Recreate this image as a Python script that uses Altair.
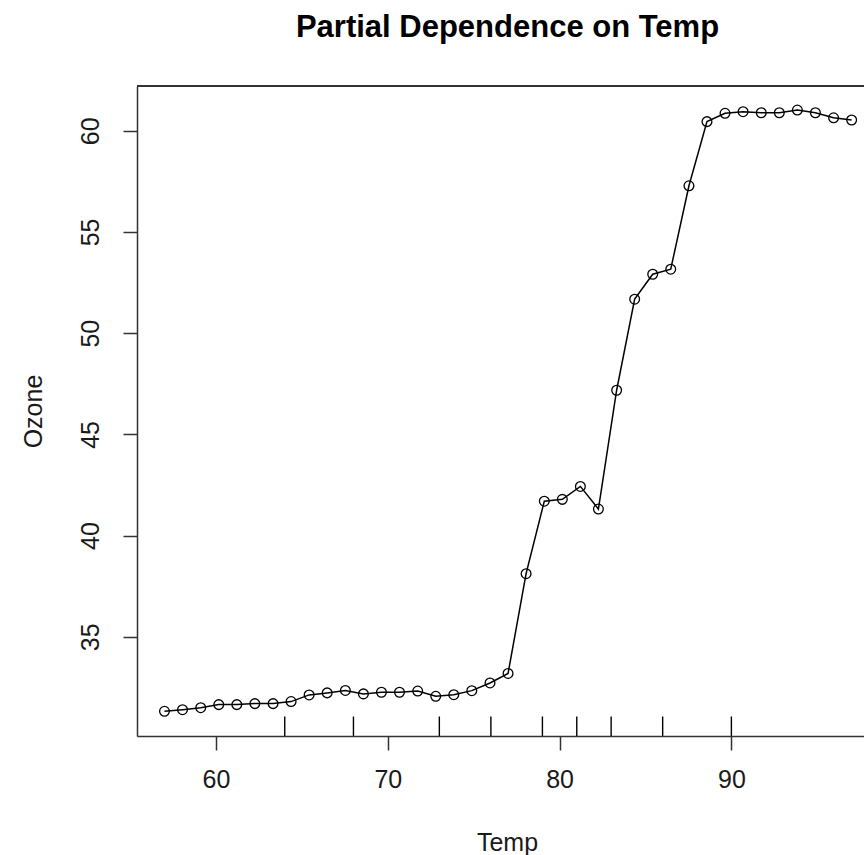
import altair as alt
import pandas as pd

# Partial dependence grid (Temp) and fitted Ozone values
temp = [57.00, 58.05, 59.11, 60.16, 61.21, 62.26, 63.32, 64.37, 65.42, 66.47,
        67.53, 68.58, 69.63, 70.68, 71.74, 72.79, 73.84, 74.89, 75.95, 77.00,
        78.05, 79.11, 80.16, 81.21, 82.26, 83.32, 84.37, 85.42, 86.47, 87.53,
        88.58, 89.63, 90.68, 91.74, 92.79, 93.84, 94.89, 95.95, 97.00]
ozone = [31.32, 31.40, 31.50, 31.65, 31.65, 31.70, 31.70, 31.80, 32.13, 32.23,
         32.35, 32.18, 32.26, 32.26, 32.32, 32.06, 32.14, 32.34, 32.72, 33.19,
         38.12, 41.70, 41.79, 42.43, 41.31, 47.18, 51.68, 52.91, 53.16, 57.28,
         60.45, 60.86, 60.94, 60.89, 60.89, 61.02, 60.89, 60.64, 60.53]
# Rug marks: deciles of Temp
rug_temp = [64, 68, 73, 76, 79, 81, 83, 86, 90]

x_ticks = [60, 70, 80, 90]
y_ticks = [35, 40, 45, 50, 55, 60]

df = pd.DataFrame({"Temp": temp, "Ozone": ozone})
rug_df = pd.DataFrame({"Temp": rug_temp})

W, H = 727, 650
FONT = "Liberation Sans"
INK = "#1a1a1a"
FRAME = "#333333"

xscale = alt.Scale(domain=[55.4, 97.72], nice=False, zero=False)
yscale = alt.Scale(domain=[30.1, 62.21], nice=False, zero=False)

xaxis = alt.Axis(
    values=x_ticks, title="Temp", grid=False,
    domainColor=FRAME, domainWidth=1.5, tickColor=FRAME, tickWidth=1.5, tickSize=14,
    labelFont=FONT, labelFontSize=25, labelColor=INK, labelPadding=17,
    labelBaseline="top", labelAlign="center",
    titleFont=FONT, titleFontSize=25, titleFontWeight="normal", titleColor=INK,
    titleX=370, titleY=106, titleBaseline="middle", titleAlign="center",
)
yaxis = alt.Axis(
    values=y_ticks, title="Ozone", grid=False,
    domainColor=FRAME, domainWidth=1.5, tickColor=FRAME, tickWidth=1.5, tickSize=14,
    labelFont=FONT, labelFontSize=25, labelColor=INK, labelPadding=33,
    labelAngle=-90, labelBaseline="middle", labelAlign="center",
    titleFont=FONT, titleFontSize=25, titleFontWeight="normal", titleColor=INK,
    titleX=-104, titleY=325, titleAngle=-90, titleBaseline="middle", titleAlign="center",
)

base = alt.Chart(df)

line = base.mark_line(color="black", strokeWidth=1.5).encode(
    x=alt.X("Temp:Q", scale=xscale, axis=xaxis),
    y=alt.Y("Ozone:Q", scale=yscale, axis=yaxis),
)
pts = base.mark_point(shape="circle", filled=False, color="black", size=95, strokeWidth=1.3,
                      opacity=1).encode(
    x=alt.X("Temp:Q", scale=xscale),
    y=alt.Y("Ozone:Q", scale=yscale),
)
rug = alt.Chart(rug_df).mark_rule(color="black", strokeWidth=1.4).encode(
    x=alt.X("Temp:Q", scale=xscale),
    y=alt.value(H),
    y2=alt.value(H - 19.5),
)
top_border = alt.Chart(rug_df).mark_rule(color=FRAME, strokeWidth=1.5).encode(
    x=alt.value(0), x2=alt.value(W), y=alt.value(0),
)

chart = alt.layer(top_border, rug, line, pts).properties(
    width=W, height=H,
    title=alt.TitleParams(
        "Partial Dependence on Temp", font=FONT, fontSize=31, fontWeight="bold",
        color="black", anchor="middle", frame="group", dx=7, offset=41,
    ),
    autosize=alt.AutoSizeParams(type="none"),
    padding={"left": 137, "top": 86, "right": 0, "bottom": 119},
).configure_view(stroke=None).configure(background="white")

chart.save("out.html", embed_options={"renderer": "svg", "actions": False})
